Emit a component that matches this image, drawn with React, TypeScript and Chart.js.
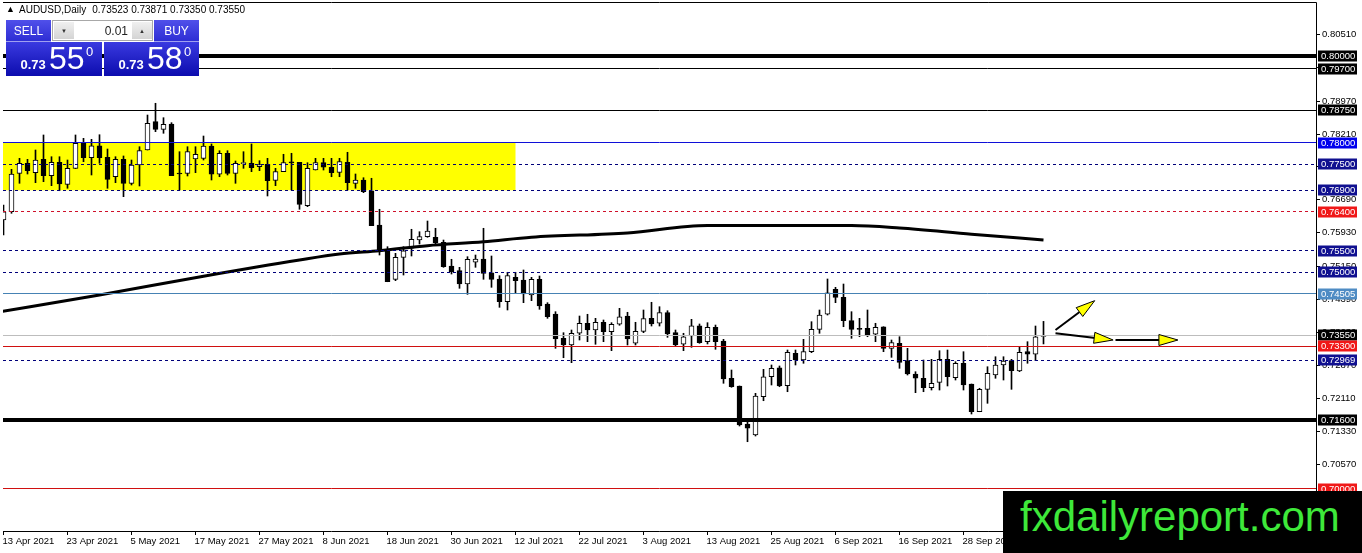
import { useEffect, useRef } from "react";
import { Chart, registerables } from "chart.js";

Chart.register(...registerables);

const symbolTitle = "AUDUSD,Daily";

const opens = [
  0.76212, 0.76404, 0.77291, 0.77522, 0.77305, 0.77614, 0.77236, 0.77545, 0.77037, 0.77406,
  0.77998, 0.77651, 0.77928, 0.77660, 0.77212, 0.77614, 0.77060, 0.77483, 0.77829, 0.78483,
  0.78307, 0.78430, 0.77291, 0.77291, 0.77621, 0.77637, 0.77921, 0.77268, 0.77753, 0.77291,
  0.77513, 0.77522, 0.77443, 0.77499, 0.77129, 0.77328, 0.77536, 0.77545, 0.76543, 0.77367,
  0.77536, 0.77430, 0.77314, 0.77545, 0.77060, 0.77136, 0.76889, 0.76097, 0.75503, 0.74843,
  0.75351, 0.75559, 0.75750, 0.75827, 0.75813, 0.75697, 0.75150, 0.75042, 0.74734, 0.75236,
  0.75312, 0.74995, 0.74850, 0.74326, 0.74889, 0.74827, 0.74480, 0.74843, 0.74272, 0.74042,
  0.73480, 0.73326, 0.73596, 0.73827, 0.73672, 0.73850, 0.73633, 0.73804, 0.73995, 0.73365,
  0.73642, 0.73942, 0.73827, 0.74072, 0.73610, 0.73342, 0.73533, 0.73771, 0.73402, 0.73734,
  0.73418, 0.72557, 0.72379, 0.71501, 0.71247, 0.72132, 0.72593, 0.72801, 0.72386, 0.73134,
  0.72979, 0.73171, 0.73688, 0.74035, 0.74612, 0.74427, 0.73887, 0.73711, 0.73711, 0.73573,
  0.73748, 0.73249, 0.73365, 0.72963, 0.72656, 0.72557, 0.72339, 0.72464, 0.72995, 0.72570,
  0.72903, 0.72425, 0.71785, 0.72302, 0.72633, 0.72864, 0.72963, 0.72725, 0.73171, 0.73111,
  0.73523,
];
const highs = [
  0.76559, 0.77383, 0.77637, 0.77614, 0.77829, 0.78176, 0.77674, 0.77674, 0.77598, 0.78176,
  0.78099, 0.78076, 0.78182, 0.77852, 0.77674, 0.77691, 0.77598, 0.77905, 0.78637, 0.78908,
  0.78575, 0.78460, 0.77790, 0.77905, 0.77905, 0.78152, 0.77968, 0.77813, 0.77813, 0.77575,
  0.77790, 0.77968, 0.77582, 0.77637, 0.77406, 0.77730, 0.77753, 0.77545, 0.77536, 0.77637,
  0.77637, 0.77637, 0.77637, 0.77776, 0.77275, 0.77189, 0.77176, 0.76460, 0.75596, 0.75443,
  0.75596, 0.75998, 0.75942, 0.76189, 0.76021, 0.75750, 0.75305, 0.75120, 0.75365, 0.75404,
  0.76021, 0.75381, 0.74926, 0.75005, 0.75005, 0.75058, 0.74889, 0.74919, 0.74303, 0.74095,
  0.73610, 0.73672, 0.73995, 0.74035, 0.73942, 0.73903, 0.73841, 0.74173, 0.74081, 0.73850,
  0.74134, 0.74312, 0.74210, 0.74118, 0.73672, 0.73596, 0.73919, 0.73811, 0.73841, 0.73787,
  0.73457, 0.72748, 0.72379, 0.71593, 0.72210, 0.72764, 0.72864, 0.72841, 0.73210, 0.73210,
  0.73457, 0.73864, 0.74134, 0.74850, 0.74658, 0.74734, 0.74095, 0.73942, 0.74134, 0.73827,
  0.73748, 0.73441, 0.73517, 0.73249, 0.72709, 0.72979, 0.72995, 0.73194, 0.73210, 0.72940,
  0.73171, 0.72425, 0.72326, 0.72824, 0.73055, 0.73055, 0.72995, 0.73286, 0.73402, 0.73764,
  0.73871,
];
const lows = [
  0.75866, 0.76367, 0.77060, 0.77275, 0.77074, 0.77097, 0.77005, 0.76889, 0.76945, 0.77400,
  0.77559, 0.77252, 0.77522, 0.76945, 0.77074, 0.76751, 0.77021, 0.76998, 0.77829, 0.78252,
  0.78215, 0.77236, 0.76905, 0.77229, 0.77305, 0.77598, 0.77136, 0.77212, 0.77252, 0.77060,
  0.77406, 0.77328, 0.77351, 0.76767, 0.77005, 0.77328, 0.76905, 0.76460, 0.76520, 0.77367,
  0.77367, 0.77212, 0.77212, 0.76905, 0.76945, 0.76843, 0.76081, 0.75404, 0.74787, 0.74811,
  0.74942, 0.75381, 0.75658, 0.75813, 0.75635, 0.75120, 0.74965, 0.74635, 0.74496, 0.75120,
  0.74843, 0.74658, 0.74196, 0.74134, 0.74533, 0.74303, 0.74349, 0.74150, 0.73942, 0.73249,
  0.73032, 0.72917, 0.73441, 0.73402, 0.73342, 0.73402, 0.73194, 0.73781, 0.73326, 0.73326,
  0.73610, 0.73764, 0.73764, 0.73503, 0.73302, 0.73194, 0.73272, 0.73365, 0.73349, 0.73226,
  0.72441, 0.72349, 0.71455, 0.71092, 0.71224, 0.72039, 0.72402, 0.72362, 0.72247, 0.72864,
  0.72903, 0.73148, 0.73596, 0.74018, 0.74303, 0.73748, 0.73480, 0.73517, 0.73517, 0.73402,
  0.73171, 0.73041, 0.72787, 0.72633, 0.72224, 0.72247, 0.72286, 0.72286, 0.72379, 0.72517,
  0.72286, 0.71732, 0.71785, 0.71979, 0.72557, 0.72517, 0.72302, 0.72709, 0.72903, 0.72963,
  0.73350,
];
const closes = [
  0.76404, 0.77275, 0.77522, 0.77351, 0.77598, 0.77236, 0.77545, 0.77044, 0.77406, 0.77984,
  0.77651, 0.77928, 0.77651, 0.77152, 0.77614, 0.77060, 0.77483, 0.77813, 0.78446, 0.78307,
  0.78423, 0.77236, 0.77275, 0.77790, 0.77730, 0.77921, 0.77268, 0.77753, 0.77291, 0.77522,
  0.77522, 0.77420, 0.77490, 0.77120, 0.77328, 0.77536, 0.77530, 0.76575, 0.77406, 0.77536,
  0.77430, 0.77305, 0.77559, 0.77074, 0.77136, 0.76866, 0.76081, 0.75520, 0.74787, 0.75351,
  0.75503, 0.75767, 0.75827, 0.75958, 0.75688, 0.75134, 0.75018, 0.74734, 0.75305, 0.75312,
  0.74981, 0.74843, 0.74326, 0.74926, 0.74811, 0.74503, 0.74843, 0.74226, 0.73979, 0.73464,
  0.73326, 0.73596, 0.73827, 0.73672, 0.73850, 0.73633, 0.73804, 0.73979, 0.73464, 0.73642,
  0.73933, 0.73811, 0.74072, 0.73580, 0.73326, 0.73517, 0.73771, 0.73379, 0.73734, 0.73402,
  0.72540, 0.72362, 0.71478, 0.71402, 0.72148, 0.72593, 0.72787, 0.72379, 0.73157, 0.72979,
  0.73171, 0.73688, 0.74018, 0.74533, 0.74427, 0.73887, 0.73688, 0.73688, 0.73557, 0.73734,
  0.73249, 0.73379, 0.72926, 0.72656, 0.72557, 0.72339, 0.72441, 0.72995, 0.72593, 0.72903,
  0.72402, 0.71785, 0.72302, 0.72672, 0.72864, 0.72956, 0.72732, 0.73157, 0.73111, 0.73517,
  0.73550,
];

const maBars = [-1, 12, 25, 37, 42, 47, 53, 60, 66, 78, 88, 97, 106, 112, 121, 130];
const maValues = [
  0.74076, 0.7448, 0.74915, 0.75289, 0.75427, 0.75504, 0.7562, 0.7571, 0.75815, 0.75915,
  0.76088, 0.76086, 0.76085, 0.76028, 0.75885, 0.75751,
];

const dateBars = [0, 8, 16, 24, 32, 40, 48, 56, 64, 72, 80, 88, 96, 104, 112, 120, 128];
const dateLabels = [
  "13 Apr 2021", "23 Apr 2021", "5 May 2021", "17 May 2021", "27 May 2021", "8 Jun 2021",
  "18 Jun 2021", "30 Jun 2021", "12 Jul 2021", "22 Jul 2021", "3 Aug 2021", "13 Aug 2021",
  "25 Aug 2021", "6 Sep 2021", "16 Sep 2021", "28 Sep 2021", "8 Oct 2021",
];

const priceTicks = [
  0.8051, 0.7975, 0.7897, 0.7821, 0.7745, 0.7669, 0.7593, 0.7515, 0.7439, 0.7363, 0.7287,
  0.7211, 0.7133, 0.7057,
];

const levelPrices = [
  0.8, 0.797, 0.7875, 0.78, 0.775, 0.769, 0.764, 0.755, 0.75, 0.74505, 0.7355, 0.733, 0.72969,
  0.716, 0.7,
];
const levelStyles = [
  { color: "#000000", width: 4, dash: [] as number[], box: "#000000" },
  { color: "#000000", width: 1, dash: [], box: "#000000" },
  { color: "#000000", width: 1, dash: [], box: "#000000" },
  { color: "#1010d8", width: 1, dash: [], box: "#0000ee" },
  { color: "#00007a", width: 1, dash: [3, 3], box: "#101090" },
  { color: "#00007a", width: 1, dash: [3, 3], box: "#101090" },
  { color: "#d0102a", width: 1, dash: [3, 3], box: "#f01818" },
  { color: "#00007a", width: 1, dash: [3, 3], box: "#101090" },
  { color: "#00007a", width: 1, dash: [3, 3], box: "#101090" },
  { color: "#4682b4", width: 1, dash: [], box: "#4f8cc4" },
  { color: "#bdbdbd", width: 1, dash: [], box: "#000000" },
  { color: "#d01010", width: 1, dash: [], box: "#f01818" },
  { color: "#00007a", width: 1, dash: [3, 3], box: "#101090" },
  { color: "#000000", width: 4, dash: [], box: "#000000" },
  { color: "#d01010", width: 1, dash: [], box: "#f01818" },
];

const zoneBars = [-5, 64];
const zonePrices = [0.769, 0.78];

const arrowFromBars = [131.5, 131.5, 139];
const arrowFromPrices = [0.73672, 0.73596, 0.73441];
const arrowToBars = [136.4, 138.7, 146.8];
const arrowToPrices = [0.74349, 0.73441, 0.73441];

const sellPrice = "0.73|55|0";
const buyPrice = "0.73|58|0";
const lotSize = "0.01";
const bannerText = "fxdailyreport.com";

const FONT = '"Liberation Sans", Arial, sans-serif';

const overlayPlugin = {
  id: "mt4overlay",
  beforeDatasetsDraw(chart: any) {
    const { ctx, chartArea: a, scales } = chart;
    const xs = scales.x;
    const ys = scales.y;
    ctx.save();
    ctx.beginPath();
    ctx.rect(a.left, a.top, a.right - a.left, a.bottom - a.top);
    ctx.clip();
    const x0 = xs.getPixelForValue(zoneBars[0]);
    const x1 = xs.getPixelForValue(zoneBars[1]);
    const y0 = ys.getPixelForValue(zonePrices[1]);
    const y1 = ys.getPixelForValue(zonePrices[0]);
    ctx.fillStyle = "#ffff00";
    ctx.fillRect(x0, y0, x1 - x0, y1 - y0);
    ctx.restore();
  },
  afterDatasetsDraw(chart: any) {
    const { ctx, chartArea: a, scales } = chart;
    const xs = scales.x;
    const ys = scales.y;
    ctx.save();
    ctx.beginPath();
    ctx.rect(a.left, a.top, a.right - a.left, a.bottom - a.top);
    ctx.clip();
    levelPrices.forEach((p, i) => {
      const st = levelStyles[i];
      let y = ys.getPixelForValue(p);
      if (st.width % 2 === 1) y = Math.round(y - 0.5) + 0.5;
      else y = Math.round(y);
      ctx.strokeStyle = st.color;
      ctx.lineWidth = st.width;
      ctx.setLineDash(st.dash);
      ctx.beginPath();
      ctx.moveTo(a.left, y);
      ctx.lineTo(a.right, y);
      ctx.stroke();
    });
    ctx.setLineDash([]);
    for (let i = 0; i < arrowFromBars.length; i++) {
      const px0 = xs.getPixelForValue(arrowFromBars[i]);
      const py0 = ys.getPixelForValue(arrowFromPrices[i]);
      const px1 = xs.getPixelForValue(arrowToBars[i]);
      const py1 = ys.getPixelForValue(arrowToPrices[i]);
      const dx = px1 - px0;
      const dy = py1 - py0;
      const len = Math.hypot(dx, dy);
      const ux = dx / len;
      const uy = dy / len;
      const hl = 19;
      const hw = 5.5;
      ctx.strokeStyle = "#000";
      ctx.lineWidth = 2;
      ctx.beginPath();
      ctx.moveTo(px0, py0);
      ctx.lineTo(px1 - ux * hl * 0.6, py1 - uy * hl * 0.6);
      ctx.stroke();
      const bx = px1 - ux * hl;
      const by = py1 - uy * hl;
      ctx.beginPath();
      ctx.moveTo(px1, py1);
      ctx.lineTo(bx - uy * hw, by + ux * hw);
      ctx.lineTo(bx + uy * hw, by - ux * hw);
      ctx.closePath();
      ctx.fillStyle = "#ffff00";
      ctx.fill();
      ctx.lineWidth = 1;
      ctx.stroke();
    }
    ctx.restore();
  },
  afterDraw(chart: any) {
    const { ctx, chartArea: a, scales } = chart;
    const xs = scales.x;
    const ys = scales.y;
    ctx.save();
    ctx.strokeStyle = "#000";
    ctx.lineWidth = 1;
    ctx.beginPath();
    ctx.moveTo(a.left, a.top - 0.5);
    ctx.lineTo(a.right + 0.5, a.top - 0.5);
    ctx.lineTo(a.right + 0.5, a.bottom + 0.5);
    ctx.lineTo(a.left, a.bottom + 0.5);
    ctx.stroke();
    ctx.font = "9.5px " + FONT;
    ctx.textBaseline = "middle";
    ctx.textAlign = "left";
    priceTicks.forEach((p) => {
      const y = Math.round(ys.getPixelForValue(p)) + 0.5;
      ctx.beginPath();
      ctx.moveTo(a.right, y);
      ctx.lineTo(a.right + 4, y);
      ctx.stroke();
      ctx.fillStyle = "#000";
      ctx.fillText(p.toFixed(5), a.right + 6, y);
    });
    levelPrices.forEach((p, i) => {
      const y = Math.round(ys.getPixelForValue(p));
      ctx.fillStyle = levelStyles[i].box;
      ctx.fillRect(a.right + 2, y - 5.5, 39, 11);
      ctx.fillStyle = "#fff";
      ctx.fillText(p.toFixed(5), a.right + 5, y + 0.5);
    });
    dateBars.forEach((b, i) => {
      const x = xs.getPixelForValue(b);
      ctx.beginPath();
      ctx.moveTo(x, a.bottom);
      ctx.lineTo(x, a.bottom + 4);
      ctx.stroke();
      ctx.fillStyle = "#000";
      ctx.fillText(dateLabels[i], x - 1, a.bottom + 10);
    });
    ctx.restore();
  },
};

function PricePanel({ left, width, price }: { left: number; width: number; price: string }) {
  const [big0, big1, sup] = price.split("|");
  return (
    <div
      style={{
        position: "absolute",
        left,
        top: 42,
        width,
        height: 34,
        background: "linear-gradient(#3a3ae0, #0c0cae)",
        color: "#fff",
        fontFamily: FONT,
      }}
    >
      <span style={{ position: "absolute", left: 14.5, top: 16, fontSize: 13, lineHeight: "13px", fontWeight: "bold" }}>
        {big0}
      </span>
      <span style={{ position: "absolute", left: 43, top: 0.2, fontSize: 32, lineHeight: "32px" }}>{big1}</span>
      <span style={{ position: "absolute", left: 80, top: 3.3, fontSize: 13, lineHeight: "13px" }}>{sup}</span>
    </div>
  );
}

function Header({ left, text }: { left: number; text: string }) {
  return (
    <div
      style={{
        position: "absolute",
        left,
        top: 20,
        width: 45,
        height: 22,
        background: "linear-gradient(#5050ea, #2e2ed4)",
        color: "#fff",
        fontFamily: FONT,
        fontSize: 12,
        display: "flex",
        alignItems: "center",
        justifyContent: "center",
        boxSizing: "border-box",
        borderBottom: "1px solid #a0a0f0",
      }}
    >
      {text}
    </div>
  );
}

export default function App() {
  const canvasRef = useRef<HTMLCanvasElement | null>(null);

  useEffect(() => {
    if (!canvasRef.current) return;
    const bodyColors = opens.map((o, i) => (closes[i] >= o ? "#ffffff" : "#000000"));
    const chart = new Chart(canvasRef.current, {
      type: "bar",
      data: {
        datasets: [
          {
            type: "line",
            label: "MA",
            data: maBars.map((b, i) => ({ x: b, y: maValues[i] })),
            borderColor: "#000",
            borderWidth: 3,
            pointRadius: 0,
            cubicInterpolationMode: "monotone",
            order: 0,
          } as any,
          {
            type: "bar",
            label: "body",
            data: opens.map((o, i) => ({ x: i, y: [o, closes[i]] })),
            backgroundColor: bodyColors,
            borderColor: "#000",
            borderWidth: 1,
            borderSkipped: false,
            barThickness: 5,
            minBarLength: 1,
            grouped: false,
            order: 1,
          } as any,
          {
            type: "bar",
            label: "wick",
            data: lows.map((l, i) => ({ x: i, y: [l, highs[i]] })),
            backgroundColor: "#000",
            borderWidth: 0,
            barThickness: 1,
            grouped: false,
            order: 2,
          } as any,
        ],
      },
      options: {
        animation: false,
        responsive: false,
        maintainAspectRatio: false,
        events: [],
        layout: { padding: { left: 3, top: 3, right: 46, bottom: 22 } },
        scales: {
          x: { type: "linear", display: false, min: -0.0625, max: 164.0625, offset: false },
          y: { type: "linear", display: false, min: 0.6903, max: 0.81224 },
        },
        plugins: { legend: { display: false }, tooltip: { enabled: false } },
      } as any,
      plugins: [overlayPlugin],
    });
    return () => chart.destroy();
  }, []);

  const last = opens.length - 1;
  const ohlc = [opens[last], highs[last], lows[last], closes[last]].map((v) => v.toFixed(5)).join(" ");

  return (
    <div
      style={{
        position: "fixed",
        left: 0,
        top: 0,
        width: 1362,
        height: 553,
        background: "#fff",
        overflow: "hidden",
      }}
    >
      <canvas ref={canvasRef} width={1362} height={553} style={{ position: "absolute", left: 0, top: 0, width: 1362, height: 553 }} />
      <div style={{ position: "absolute", left: 6, top: 4, fontFamily: FONT, fontSize: 9, lineHeight: "10px", color: "#000" }}>▲</div>
      <div
        style={{
          position: "absolute",
          left: 19,
          top: 5,
          fontFamily: FONT,
          fontSize: 10,
          lineHeight: "10px",
          color: "#000",
          whiteSpace: "pre",
        }}
      >
        <span>{symbolTitle}</span>
        <span style={{ marginLeft: 6 }}>{ohlc}</span>
      </div>
      <Header left={6} text="SELL" />
      <Header left={154} text="BUY" />
      <div
        style={{
          position: "absolute",
          left: 52,
          top: 20,
          width: 101,
          height: 21,
          background: "#fff",
          border: "1px solid #a8a8a8",
          boxSizing: "border-box",
        }}
      >
        <div style={{ position: "absolute", left: 1, top: 1, width: 20, height: 17, background: "linear-gradient(#f0f0f0,#d4d4d4)", color: "#333", fontSize: 6, display: "flex", alignItems: "center", justifyContent: "center", fontFamily: FONT }}>▼</div>
        <div style={{ position: "absolute", left: 79, top: 1, width: 20, height: 17, background: "linear-gradient(#f0f0f0,#d4d4d4)", color: "#333", fontSize: 6, display: "flex", alignItems: "center", justifyContent: "center", fontFamily: FONT }}>▲</div>
        <div style={{ position: "absolute", left: 22, top: 3.5, width: 53, textAlign: "right", fontFamily: FONT, fontSize: 12, lineHeight: "12px", color: "#222" }}>{lotSize}</div>
      </div>
      <PricePanel left={6} width={96} price={sellPrice} />
      <PricePanel left={104} width={95} price={buyPrice} />
      <div style={{ position: "absolute", left: 1003, top: 491, width: 359, height: 62, background: "#000" }}>
        <div
          style={{
            position: "absolute",
            left: 17,
            top: 5,
            fontFamily: FONT,
            fontSize: 42,
            lineHeight: "42px",
            color: "#3ee83a",
            whiteSpace: "nowrap",
          }}
        >
          {bannerText}
        </div>
      </div>
    </div>
  );
}
